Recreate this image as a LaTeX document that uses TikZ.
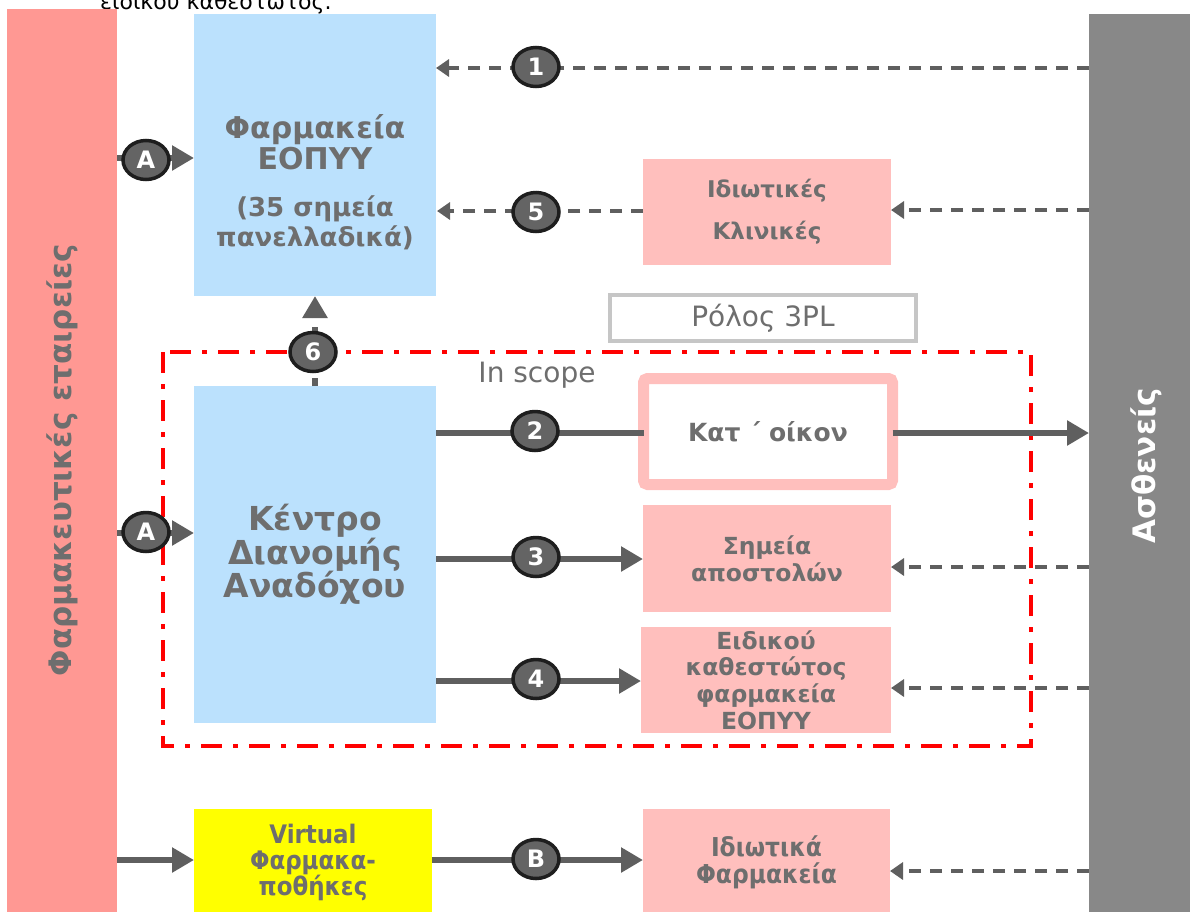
\documentclass[tikz,border=0pt]{standalone}
\usepackage{fontspec}
\setmainfont{DejaVu Sans}
\newfontfamily\condfont{DejaVu Sans Condensed}
\usetikzlibrary{arrows.meta,shapes.geometric}
\definecolor{redbar}{HTML}{FF9893}
\definecolor{bluebox}{HTML}{BBE1FD}
\definecolor{pinkbox}{HTML}{FFBFBD}
\definecolor{graybar}{HTML}{888888}
\definecolor{vyellow}{RGB}{255,255,0}
\definecolor{txt}{HTML}{6E6E6E}
\definecolor{ln}{HTML}{5F5F5F}
\definecolor{bfill}{HTML}{646464}
\definecolor{bdraw}{HTML}{1E1E1E}
\definecolor{plborder}{HTML}{C6C6C6}
\definecolor{scopered}{RGB}{255,0,0}
\tikzset{
  panel/.style={inner sep=0pt, outer sep=0pt, align=center, text=txt, font=\bfseries},
  lbl/.style={inner sep=0pt, align=center, text=txt},
  solidarr/.style={line width=6.5pt, draw=ln, -{Triangle[length=22pt,width=24pt]}},
  solidline/.style={line width=6.5pt, draw=ln},
  dasharr/.style={line width=4pt, draw=ln, dash pattern=on 12pt off 9pt, -{Triangle[length=13pt,width=17pt]}},
  badge/.style={ellipse, fill=bfill, draw=bdraw, line width=3.5pt, minimum width=46pt, minimum height=39pt, inner sep=0pt, text=white, font=\bfseries\fontsize{24}{24}\selectfont},
}
\begin{document}
\begin{tikzpicture}[x=1pt,y=-1pt]
\useasboundingbox (0,0) rectangle (1190,911);
% top cut text
\node[anchor=base west, inner sep=0pt, text=black, font=\fontsize{22}{22}\selectfont] (toptext) at (100,9) {ειδικού καθεστώτος.};
% bars
\node[panel, fill=redbar, minimum width=110pt, minimum height=906pt] (firms) at (62,462) {};
\node[lbl, rotate=90, text=txt, font=\bfseries\fontsize{31}{31}\selectfont] (firmstxt) at (62,460) {Φαρμακευτικές εταιρείες};
\node[panel, fill=graybar, minimum width=104pt, minimum height=901pt] (patients) at (1141,464.5) {};
\node[lbl, rotate=90, text=white, font=\bfseries\fontsize{31}{31}\selectfont] (patientstxt) at (1146,466) {Ασθενείς};
% blue boxes
\node[panel, fill=bluebox, minimum width=242pt, minimum height=282pt] (eopyy) at (315,155) {};
\node[lbl, font=\bfseries\fontsize{30}{31}\selectfont] (eopyyt1) at (315,142) {Φαρμακεία\\ΕΟΠΥΥ};
\node[lbl, font=\bfseries\fontsize{26}{30}\selectfont] (eopyyt2) at (315,223) {(35 σημεία\\πανελλαδικά)};
\node[panel, fill=bluebox, minimum width=242pt, minimum height=337pt, font=\bfseries\fontsize{33}{33.5}\selectfont] (center) at (315,554.5) {Κέντρο\\Διανομής\\Αναδόχου};
% scope
\draw[scopered, line width=4pt, dash pattern=on 21pt off 11pt on 5pt off 11pt] (163,352) rectangle (1031,746);
\node[lbl, font=\fontsize{28}{28}\selectfont] (scope) at (537,375) {In scope};
% right boxes
\node[panel, fill=pinkbox, minimum width=248pt, minimum height=106pt, font=\bfseries\fontsize{23}{42}\selectfont] (clinics) at (767,212) {Ιδιωτικές\\Κλινικές};
\node[lbl, draw=plborder, line width=4pt, fill=white, minimum width=306pt, minimum height=46pt, font=\fontsize{28}{28}\selectfont] (role) at (763,318) {Ρόλος 3PL};
\node[panel, draw=pinkbox, line width=11pt, rounded corners=4pt, fill=white, minimum width=249pt, minimum height=106pt, font=\bfseries\fontsize{25}{25}\selectfont] (home) at (768,431.5) {Κατ ΄ οίκον};
\node[panel, fill=pinkbox, minimum width=248pt, minimum height=107pt, font=\bfseries\fontsize{23.5}{27}\selectfont] (points) at (767,558.5) {Σημεία\\αποστολών};
\node[panel, fill=pinkbox, minimum width=250pt, minimum height=106pt, font=\bfseries\fontsize{23.5}{26.7}\selectfont] (special) at (766,680) {Ειδικού\\καθεστώτος\\φαρμακεία\\ΕΟΠΥΥ};
\node[panel, fill=vyellow, minimum width=238pt, minimum height=106pt, font=\condfont\bfseries\fontsize{25.5}{26}\selectfont] (virtual) at (313,862) {Virtual\\Φαρμακα-\\ποθήκες};
\node[panel, fill=pinkbox, minimum width=247pt, minimum height=106pt, font=\condfont\bfseries\fontsize{26}{27}\selectfont] (private) at (766.5,862) {Ιδιωτικά\\Φαρμακεία};
% level coordinates
\coordinate (y1) at (0,68);
\coordinate (yA1) at (0,158);
\coordinate (y5) at (0,211);
\coordinate (y5b) at (0,210);
\coordinate (y2) at (0,433);
\coordinate (y3) at (0,559);
\coordinate (y3b) at (0,567);
\coordinate (y4) at (0,681);
\coordinate (y4b) at (0,688);
\coordinate (yA2) at (0,533);
\coordinate (yB) at (0,860);
\coordinate (yBb) at (0,871);
\coordinate (x6) at (315,0);
% connectors
\draw[dasharr] (patients.west |- y1) -- (eopyy.east |- y1);
\draw[solidarr] (firms.east |- yA1) -- (eopyy.west |- yA1);
\draw[dasharr, shorten >=1pt] (clinics.west |- y5) -- (eopyy.east |- y5);
\draw[dasharr] (patients.west |- y5b) -- (clinics.east |- y5b);
\draw[solidarr, dash pattern=on 8pt off 9pt] (center.north -| x6) -- (eopyy.south -| x6);
\draw[solidline] (center.east |- y2) -- (home.west |- y2);
\draw[solidarr] (home.east |- y2) -- (patients.west |- y2);
\draw[solidarr] (center.east |- y3) -- (points.west |- y3);
\draw[dasharr] (patients.west |- y3b) -- (points.east |- y3b);
\draw[solidarr] (center.east |- y4) -- (special.west |- y4);
\draw[dasharr] (patients.west |- y4b) -- (special.east |- y4b);
\draw[solidarr] (firms.east |- yA2) -- (center.west |- yA2);
\draw[solidarr] (firms.east |- yB) -- (virtual.west |- yB);
\draw[solidarr] (virtual.east |- yB) -- (private.west |- yB);
\draw[dasharr] (patients.west |- yBb) -- (private.east |- yBb);
% badges
\node[badge] (b1) at (536,67) {1};
\node[badge] (bA1) at (146,160) {A};
\node[badge] (b5) at (536,212) {5};
\node[badge] (b6) at (313,352) {6};
\node[badge] (b2) at (535,431) {2};
\node[badge] (b3) at (536,557) {3};
\node[badge] (b4) at (536,679) {4};
\node[badge] (bA2) at (146,532) {A};
\node[badge] (bB) at (536,859) {B};
\end{tikzpicture}
\end{document}
